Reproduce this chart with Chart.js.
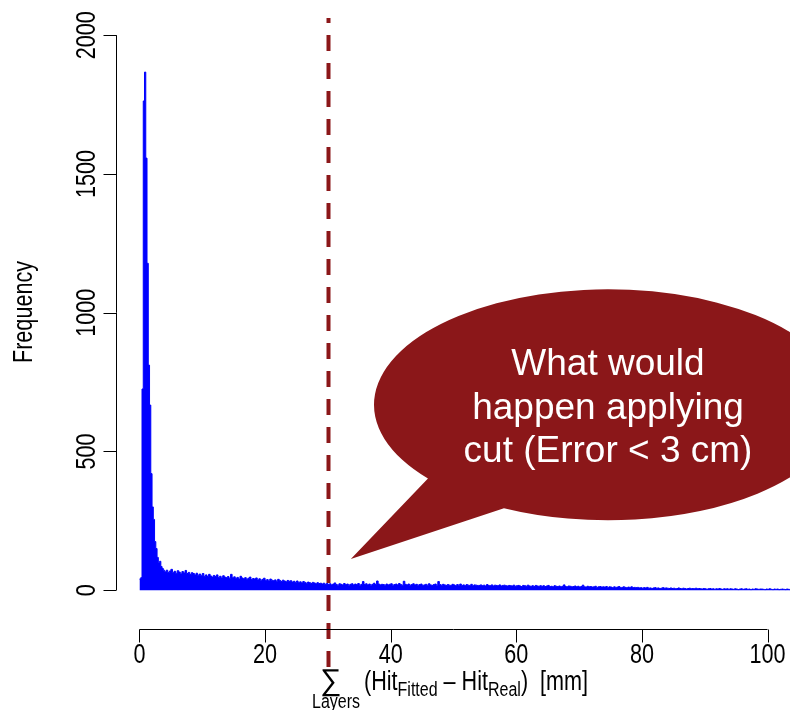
<!DOCTYPE html>
<html>
<head>
<meta charset="utf-8">
<script src="https://cdn.jsdelivr.net/npm/chart.js@4.4.1/dist/chart.umd.min.js"></script>
<style>
  html, body { margin: 0; padding: 0; background: #fff; }
  #wrap { width: 790px; height: 710px; }
</style>
</head>
<body>
<div id="wrap"><canvas id="histChart" width="790" height="710"></canvas></div>
<script>
// Residual sum over layers, binned counts.
// Fine bins (0.2 mm) over the peak, 0.25 mm bins over the long tail.
const peakStart = 0;
const peakBinWidth = 0.2;
const peakCounts = [40, 45, 725, 1763, 1867, 1557, 1178, 811, 667, 420,
                    300, 255, 175, 150, 118, 100, 104, 85, 78, 72];

const tailStart = 4;
const tailBinWidth = 0.25;
const tailCounts = [
  66, 72, 64, 69, 75, 63, 68, 61, 70, 65, 59, 67, 62, 71, 60, 64, 57, 63, 60, 55,
  61, 54, 58, 52, 60, 50, 55, 49, 57, 51, 47, 53, 49, 55, 46, 50, 44, 52, 47, 45,
  49, 43, 57, 45, 48, 42, 46, 40, 50, 44, 41, 45, 39, 43, 47, 38, 42, 40, 44, 37,
  41, 36, 39, 43, 35, 38, 33, 40, 36, 34, 37, 32, 39, 35, 31, 36, 33, 30, 35, 32,
  34, 29, 32, 28, 33, 27, 30, 26, 31, 28, 25, 29, 27, 24, 28, 26, 23, 27, 24, 25,
  22, 25, 21, 24, 20, 23, 19, 22, 26, 20, 18, 23, 21, 19, 24, 20, 22, 18, 21, 23,
  19, 22, 20, 24, 18, 21, 31, 20, 23, 19, 22, 18, 21, 25, 20, 33, 22, 19, 21, 20,
  18, 22, 19, 21, 23, 18, 20, 22, 19, 24, 20, 18, 32, 21, 19, 22, 18, 20, 23, 19,
  21, 18, 20, 22, 17, 19, 21, 18, 23, 19, 17, 20, 22, 18, 31, 20, 18, 21, 19, 17,
  20, 18, 17, 21, 19, 16, 20, 18, 22, 17, 19, 16, 20, 18, 17, 21, 16, 19, 18, 17,
  17, 19, 16, 18, 15, 20, 17, 16, 19, 15, 18, 17, 16, 19, 15, 17, 18, 16, 15, 17,
  16, 15, 18, 14, 16, 17, 15, 13, 17, 16, 14, 18, 15, 14, 16, 13, 17, 15, 14, 16,
  14, 16, 13, 15, 17, 13, 14, 12, 16, 14, 13, 15, 12, 14, 19, 13, 12, 15, 14, 12,
  13, 15, 12, 14, 11, 13, 18, 12, 11, 14, 12, 13, 11, 12, 14, 10, 12, 13, 11, 12,
  11, 13, 10, 12, 11, 9, 12, 10, 11, 13, 9, 10, 12, 10, 9, 11, 10, 12, 9, 10,
  9, 10, 8, 9, 7, 9, 8, 10, 7, 8, 6, 8, 9, 7, 8, 6, 7, 9, 7, 8,
  7, 6, 8, 6, 7, 5, 6, 8, 6, 5, 7, 6, 4, 6, 7, 5, 6, 5, 7, 5,
  6, 5, 4, 6, 5, 3, 5, 6, 4, 5, 3, 5, 4, 6, 4, 3, 5, 4, 5, 3,
  5, 4, 3, 5, 4, 2, 4, 5, 3, 4, 5, 3, 4, 2, 4, 3, 5, 4, 3, 4,
  4, 3, 2, 4, 3, 5, 3, 2, 4, 3, 4, 2, 3, 4, 3, 2, 4, 3, 2, 3
];

const xTicks = [0, 20, 40, 60, 80, 100];
const yTicks = [0, 500, 1000, 1500, 2000];
const cutValue = 30;
const bubbleLines = ['What would', 'happen applying', 'cut (Error < 3 cm)'];

// left bin edges -> stepped points
const histPoints = [];
peakCounts.forEach((c, i) => histPoints.push({ x: peakStart + i * peakBinWidth, y: c }));
tailCounts.forEach((c, i) => histPoints.push({ x: tailStart + i * tailBinWidth, y: c }));
histPoints.push({ x: tailStart + tailCounts.length * tailBinWidth, y: 0 });

const DARK_RED = '#8B1719';
const SANS = '"Liberation Sans", Arial, sans-serif';
const SQUEEZE = 0.8;   // condensed look of the axis lettering

// text squeezed along its own direction; returns the drawn width
function narrowText(ctx, txt, x, y, rot) {
  ctx.save();
  ctx.translate(x, y);
  if (rot) ctx.rotate(rot);
  ctx.scale(SQUEEZE, 1);
  ctx.fillText(txt, 0, 0);
  ctx.restore();
  return ctx.measureText(txt).width * SQUEEZE;
}

// R-style axes, the cut line and the call-out, drawn on top of the histogram
const overlay = {
  id: 'overlay',
  afterDatasetsDraw(chart) {
    const { ctx, chartArea } = chart;
    const xs = chart.scales.x, ys = chart.scales.y;
    ctx.save();

    // dashed cut line
    const xc = Math.round(xs.getPixelForValue(cutValue)) + 0.5;
    ctx.strokeStyle = DARK_RED;
    ctx.lineWidth = 4;
    ctx.setLineDash([16, 12]);
    ctx.lineDashOffset = 11;
    ctx.beginPath();
    ctx.moveTo(xc, 18);
    ctx.lineTo(xc, 668);
    ctx.stroke();
    ctx.setLineDash([]);

    // x axis
    ctx.strokeStyle = '#000';
    ctx.lineWidth = 1;
    const yAx = chartArea.bottom + 0.5;
    ctx.beginPath();
    ctx.moveTo(xs.getPixelForValue(xTicks[0]), yAx);
    ctx.lineTo(xs.getPixelForValue(xTicks[xTicks.length - 1]), yAx);
    xTicks.forEach(t => {
      const px = Math.round(xs.getPixelForValue(t)) + 0.5;
      ctx.moveTo(px, yAx);
      ctx.lineTo(px, yAx + 13);
    });
    ctx.stroke();
    ctx.fillStyle = '#000';
    ctx.font = '27px ' + SANS;
    ctx.textAlign = 'center';
    ctx.textBaseline = 'middle';
    xTicks.forEach(t => narrowText(ctx, String(t), xs.getPixelForValue(t), 656));

    // y axis
    const xAx = chartArea.left + 0.5;
    ctx.beginPath();
    ctx.moveTo(xAx, ys.getPixelForValue(yTicks[0]));
    ctx.lineTo(xAx, ys.getPixelForValue(yTicks[yTicks.length - 1]));
    yTicks.forEach(t => {
      const py = Math.round(ys.getPixelForValue(t)) + 0.5;
      ctx.moveTo(xAx, py);
      ctx.lineTo(xAx - 13, py);
    });
    ctx.stroke();
    yTicks.forEach(t => narrowText(ctx, String(t), 88, ys.getPixelForValue(t), -Math.PI / 2));

    // y title
    ctx.font = '27px ' + SANS;
    narrowText(ctx, 'Frequency', 25, 312, -Math.PI / 2);

    // x title: sum over layers of (Hit_Fitted - Hit_Real) [mm]
    ctx.textBaseline = 'alphabetic';
    ctx.font = '30px ' + SANS;
    ctx.fillText('\u2211', 331, 690);
    ctx.font = '20px ' + SANS;
    narrowText(ctx, 'Layers', 336, 708);
    ctx.textAlign = 'left';
    const parts = [
      ['(Hit', 27, 0], ['Fitted', 20, 6], [' \u2013 Hit', 27, 0], ['Real', 20, 6], [')  [mm]', 27, 0]
    ];
    let cx = 364;
    parts.forEach(([txt, size, dy]) => {
      ctx.font = size + 'px ' + SANS;
      cx += narrowText(ctx, txt, cx, 690 + dy);
    });

    // speech bubble
    const bx = xs.getPixelForValue(74.6), by = ys.getPixelForValue(668);
    const rx = 234, ry = 115.5;
    const tipX = xs.getPixelForValue(33.65), tipY = ys.getPixelForValue(112);
    const a1 = 140.3 * Math.PI / 180, a2 = (116.4 + 360) * Math.PI / 180;
    ctx.fillStyle = DARK_RED;
    ctx.beginPath();
    ctx.moveTo(tipX, tipY);
    ctx.lineTo(bx + rx * Math.cos(a1), by + ry * Math.sin(a1));
    ctx.ellipse(bx, by, rx, ry, 0, a1, a2, false);
    ctx.closePath();
    ctx.fill();

    ctx.fillStyle = '#fff';
    ctx.textAlign = 'center';
    ctx.font = '37px ' + SANS;
    bubbleLines.forEach((line, i) => ctx.fillText(line, bx, 375 + i * 43.5));

    ctx.restore();
  }
};

new Chart(document.getElementById('histChart'), {
  type: 'line',
  data: {
    datasets: [{
      label: 'Frequency',
      data: histPoints,
      stepped: true,
      fill: 'origin',
      backgroundColor: '#0000FF',
      borderColor: '#0000FF',
      borderWidth: 1,
      pointRadius: 0,
      tension: 0
    }]
  },
  options: {
    responsive: false,
    devicePixelRatio: 1,
    animation: false,
    layout: { padding: { left: 116, right: 0, top: 13, bottom: 81 } },
    plugins: { legend: { display: false }, tooltip: { enabled: false } },
    scales: {
      x: { type: 'linear', min: -3.74, max: 103.58, display: false },
      y: { min: -140, max: 2080, display: false }
    }
  },
  plugins: [overlay]
});
</script>
</body>
</html>
